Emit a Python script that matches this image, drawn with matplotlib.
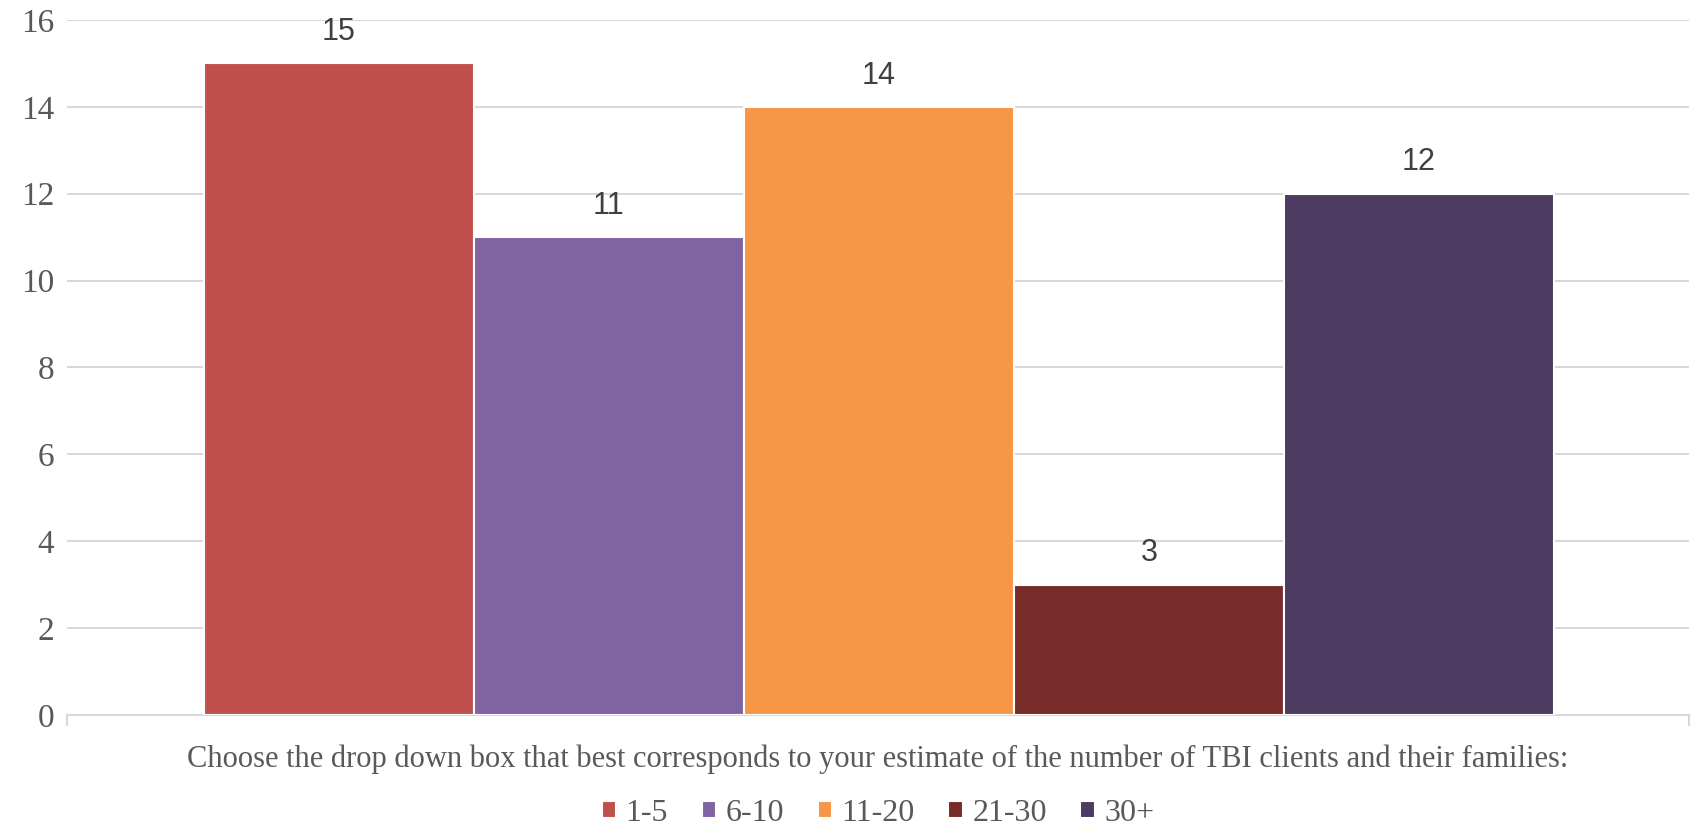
import matplotlib.pyplot as plt
import numpy as np

# data
series = ['1-5', '6-10', '11-20', '21-30', '30+']
values = [15, 11, 14, 3, 12]
colors = ['#C0504D', '#8064A2', '#F79646', '#772C2A', '#4D3B62']
xlabel = 'Choose the drop down box that best corresponds to your estimate of the number of TBI clients and their families:'

serif = ['Liberation Serif', 'DejaVu Serif']
sans = ['Liberation Sans', 'DejaVu Sans']
grey = '#595959'

fig = plt.figure(figsize=(16.96, 8.32), dpi=100)
ax = fig.add_axes([0.0395, 0.1406, 0.9563, 0.8354])

w = 0.2
n = len(series)
for i, (s, v, c) in enumerate(zip(series, values, colors)):
    x = (i - (n - 1) / 2) * w
    ax.bar(x, v, width=w, color=c, edgecolor='white', linewidth=1.5, label=s, zorder=3)
    ax.text(x, v + 0.72, str(v), ha='center', va='center', fontsize=22,
            family=sans, color='#404040')

ax.set_xlim(-0.6015, 0.600)
ax.set_ylim(0, 16)
ax.set_yticks(np.arange(0, 17, 2))
ax.yaxis.grid(True, color='#D9D9D9', linewidth=1.5, zorder=0)
ax.set_axisbelow(True)

for sp in ['top', 'right', 'left']:
    ax.spines[sp].set_visible(False)
ax.spines['bottom'].set_color('#D9D9D9')
ax.spines['bottom'].set_linewidth(1.5)

ax.set_xticks([-0.6015, 0.600])
ax.set_xticklabels([])
ax.tick_params(axis='x', length=8, width=1.5, color='#D9D9D9')
ax.tick_params(axis='y', length=0, pad=9, labelsize=24, labelcolor=grey)
for t in ax.get_yticklabels():
    t.set_family(serif)

ax.set_xlabel(xlabel, fontsize=22, family=serif, color=grey, labelpad=10)

ax.legend(loc='center', bbox_to_anchor=(0.5, -0.141), ncol=5, frameon=False,
          prop={'family': serif, 'size': 23}, labelcolor=grey,
          handlelength=0.45, handleheight=0.45, handletextpad=0.3, columnspacing=1.05,
          borderpad=0.1)

plt.savefig('out.png', dpi=100)
